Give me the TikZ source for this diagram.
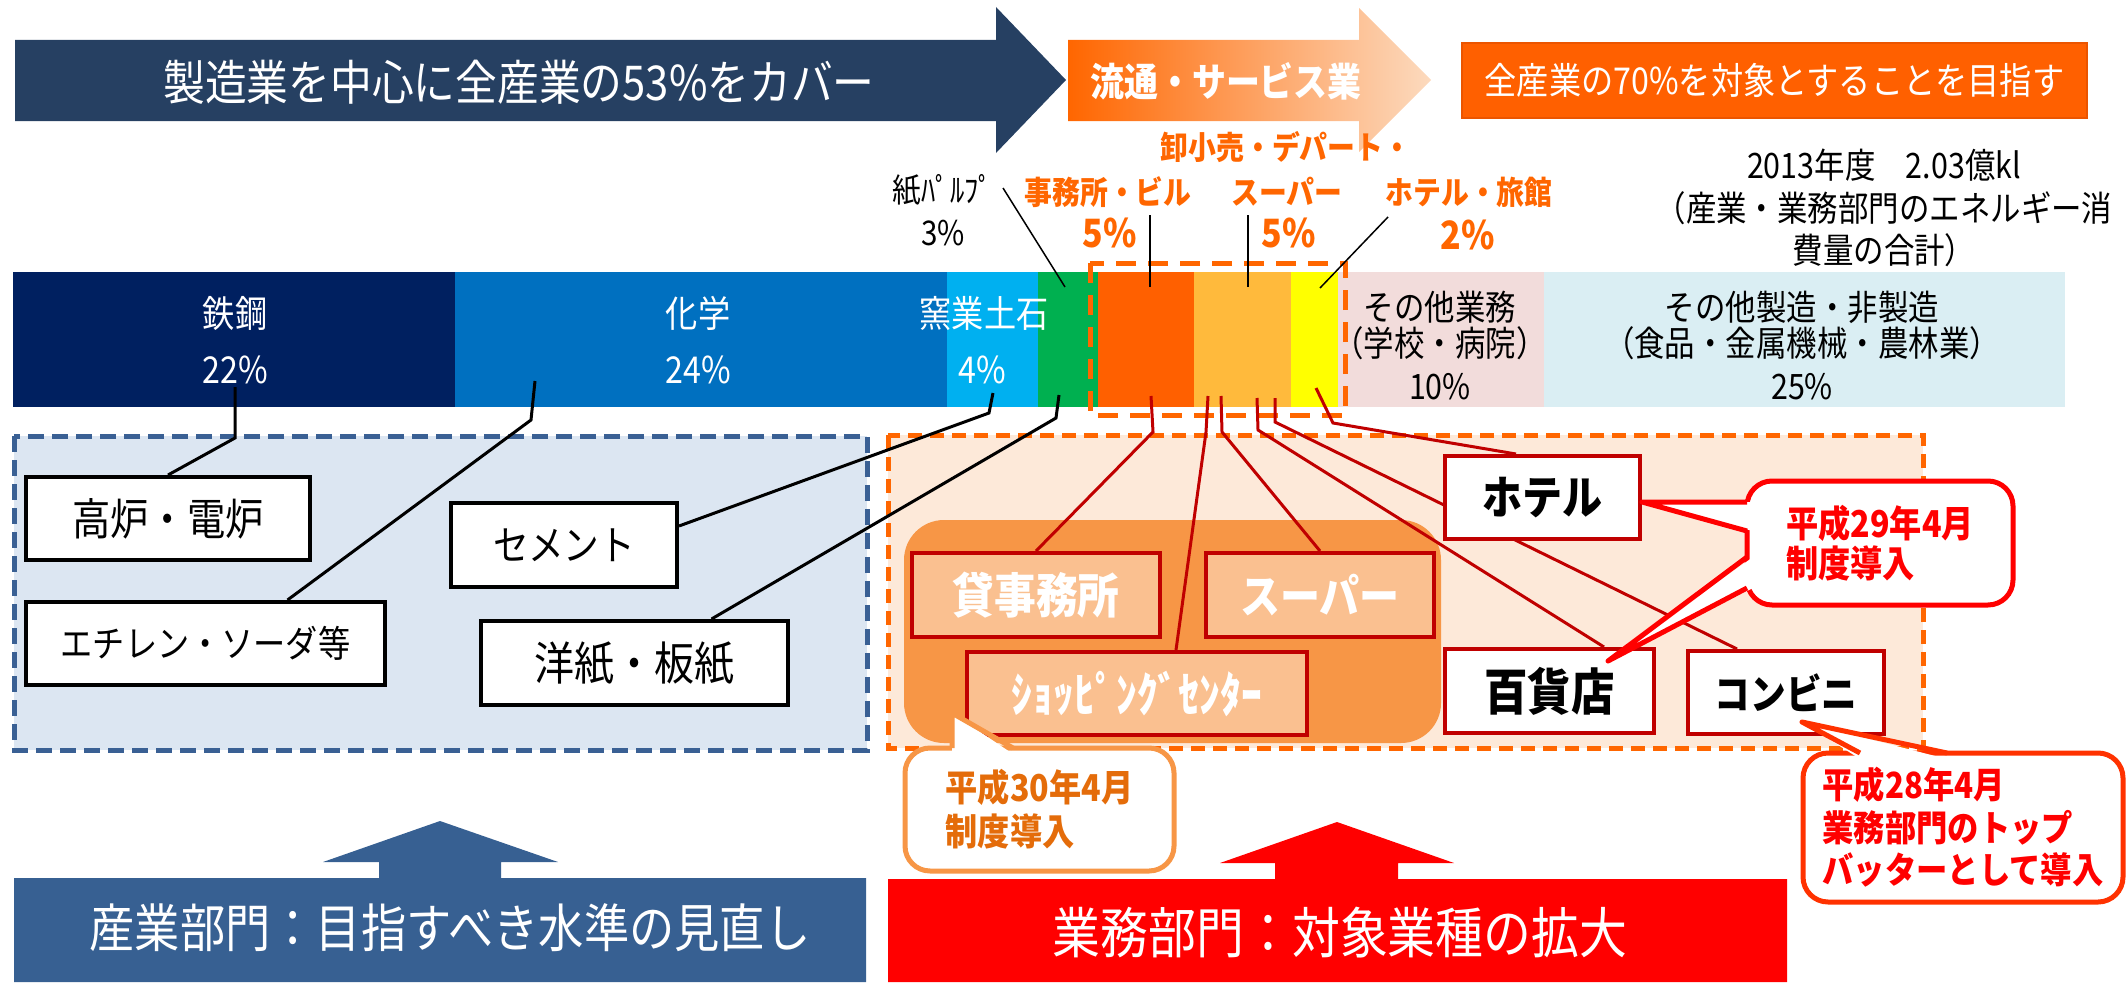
\documentclass[tikz,border=0pt]{standalone}
\usepackage{fontspec}
\setmainfont{Noto Sans CJK JP}[FakeStretch=0.87]
\pgfdeclarelayer{bg}
\pgfdeclarelayer{mid}
\pgfsetlayers{bg,mid,main}
\definecolor{navyA}{RGB}{38,64,98}
\definecolor{orA}{RGB}{255,102,0}
\definecolor{orM}{RGB}{249,140,60}
\definecolor{peachL}{RGB}{252,218,190}
\definecolor{orR}{RGB}{255,96,0}
\definecolor{orD}{RGB}{235,85,0}
\definecolor{cSteel}{RGB}{0,32,96}
\definecolor{cChem}{RGB}{0,112,192}
\definecolor{cCer}{RGB}{0,176,240}
\definecolor{cPap}{RGB}{0,176,80}
\definecolor{cOff}{RGB}{255,96,0}
\definecolor{cSup}{RGB}{255,186,60}
\definecolor{cHot}{RGB}{255,255,0}
\definecolor{cOth}{RGB}{242,220,219}
\definecolor{cMan}{RGB}{218,238,243}
\definecolor{blueF}{RGB}{220,230,242}
\definecolor{blueB}{RGB}{58,96,148}
\definecolor{peachF}{RGB}{253,233,217}
\definecolor{roundO}{RGB}{247,150,70}
\definecolor{boxO}{RGB}{250,192,144}
\definecolor{dRed}{RGB}{192,0,0}
\definecolor{cRed}{RGB}{255,0,0}
\definecolor{cTxt}{RGB}{228,108,10}
\definecolor{cEdge}{RGB}{255,50,0}
\definecolor{botB}{RGB}{55,96,146}
\definecolor{botR}{RGB}{255,0,0}
\definecolor{labO}{RGB}{255,102,0}
\newcommand{\fz}[2]{\fontsize{#1}{#2}\selectfont}
\begin{document}
\begin{tikzpicture}[x=1pt,y=-1pt,
 seg/.style={minimum height=135pt,inner sep=0pt,outer sep=0pt},
 tx/.style={inner sep=0pt,outer sep=0pt},
 wbox/.style={draw=black,line width=4pt,fill=white,inner sep=0pt},
 rbox/.style={draw=dRed,line width=4pt,fill=white,inner sep=0pt},
 obox/.style={draw=dRed,line width=4pt,fill=boxO,inner sep=0pt,text=white},
 blead/.style={line width=3pt,black},
 rlead/.style={line width=3pt,dRed},
 tlead/.style={line width=1.5pt,black},
 call/.style={line width=5pt,fill=white,rounded corners=25pt,inner sep=0pt,align=left},
 tail/.style={line width=5pt,line join=round},
]
\useasboundingbox (0,0) rectangle (2127,982);
\begin{pgfonlayer}{bg}
% top arrows
\fill[navyA] (15,40) -- (996,40) -- (996,7) -- (1066,80) -- (996,153) -- (996,121) -- (15,121) -- cycle;
\node[tx,text=white,font={\fz{48}{56}}] (t1) at (519,82) {製造業を中心に全産業の53\%をカバー};
\shade[left color=orA,middle color=orM,right color=peachL] (1068,40) -- (1359,40) -- (1359,8) -- (1431,80) -- (1359,152) -- (1359,121) -- (1068,121) -- cycle;
\node[tx,text=white,font={\bfseries\fz{39}{45}}] (t2) at (1226,81) {流通・サービス業};
\node[draw=orD,line width=2pt,fill=orR,minimum width=625pt,minimum height=75pt,inner sep=0pt,text=white,font={\fz{37}{42}}] (t3) at (1774.5,80.5) {全産業の70\%を対象とすることを目指す};
% labels above bar
\node[tx,font={\fz{33}{38}}] (q0) at (943,190) {紙ﾊﾟﾙﾌﾟ};
\node[tx,font={\fz{34}{40}}] (q0p) at (943,233) {3\%};
\node[tx,text=labO,font={\bfseries\fz{32}{38}}] (q1) at (1108,192) {事務所・ビル};
\node[tx,text=labO,font={\bfseries\fz{39}{45}}] (q1p) at (1110,233) {5\%};
\node[tx,text=labO,font={\bfseries\fz{32}{38}}] (q2a) at (1286,147) {卸小売・デパート・};
\node[tx,text=labO,font={\bfseries\fz{32}{38}}] (q2) at (1287,192) {スーパー};
\node[tx,text=labO,font={\bfseries\fz{39}{45}}] (q2p) at (1289,233) {5\%};
\node[tx,text=labO,font={\bfseries\fz{32}{38}}] (q3) at (1469,192) {ホテル・旅館};
\node[tx,text=labO,font={\bfseries\fz{39}{45}}] (q3p) at (1468,235) {2\%};
\node[tx,align=center,font={\fz{35}{42.5}}] (tot) at (1884,208) {2013年度　2.03億kl\\（産業・業務部門のエネルギー消\\費量の合計）};
% dashed areas
\draw[draw=blueB,fill=blueF,line width=5pt,dash pattern=on 16pt off 8pt] (14,436) rectangle (867,750);
\draw[draw=orA,fill=peachF,line width=5pt,dash pattern=on 14pt off 8pt] (888,435) rectangle (1923,748);
\fill[roundO,rounded corners=40pt] (904,520) rectangle (1441,743);
% bar
\node[seg,fill=cSteel,minimum width=442pt] (s1) at (234,339.5) {};
\node[seg,fill=cChem,minimum width=492pt] (s2) at (701,339.5) {};
\node[seg,fill=cCer,minimum width=91pt] (s3) at (992.5,339.5) {};
\node[seg,fill=cPap,minimum width=60pt] (s4) at (1068,339.5) {};
\node[seg,fill=cOff,minimum width=96pt] (s5) at (1146,339.5) {};
\node[seg,fill=cSup,minimum width=97pt] (s6) at (1242.5,339.5) {};
\node[seg,fill=cHot,minimum width=47pt] (s7) at (1314.5,339.5) {};
\node[seg,fill=cOth,minimum width=206pt] (s8) at (1441,339.5) {};
\node[seg,fill=cMan,minimum width=521pt] (s9) at (1804.5,339.5) {};
\node[tx,text=white,font={\fz{37}{42}}] (n1) at (235,313) {鉄鋼};
\node[tx,text=white,font={\fz{37}{42}}] (n1p) at (235,370) {22\%};
\node[tx,text=white,font={\fz{37}{42}}] (n2) at (698,313) {化学};
\node[tx,text=white,font={\fz{37}{42}}] (n2p) at (698,370) {24\%};
\node[tx,text=white,font={\fz{37}{42}}] (n3) at (984,313) {窯業土石};
\node[tx,text=white,font={\fz{37}{42}}] (n3p) at (982,370) {4\%};
\node[tx,font={\fz{35}{40}}] (n8) at (1440,307) {その他業務};
\node[tx,font={\fz{35}{40}}] (n8b) at (1440,343) {（学校・病院）};
\node[tx,font={\fz{35}{40}}] (n8p) at (1440,387) {10\%};
\node[tx,font={\fz{35}{40}}] (n9) at (1802,307) {その他製造・非製造};
\node[tx,font={\fz{35}{40}}] (n9b) at (1802,343) {（食品・金属機械・農林業）};
\node[tx,font={\fz{35}{40}}] (n9p) at (1802,387) {25\%};
\draw[orA,line width=5pt,dash pattern=on 20pt off 12pt] (1090,263) rectangle (1345,415);
% bottom arrows
\fill[botB] (14,878) -- (379,878) -- (379,862) -- (323,862) -- (440,821) -- (558,862) -- (501,862) -- (501,878) -- (866,878) -- (866,982) -- (14,982) -- cycle;
\node[tx,text=white,font={\fz{52}{58}}] (bt1) at (450,928) {産業部門：目指すべき水準の見直し};
\fill[botR] (888,879) -- (1275,879) -- (1275,863) -- (1220,863) -- (1337,822) -- (1454,863) -- (1398,863) -- (1398,879) -- (1787,879) -- (1787,982) -- (888,982) -- cycle;
\node[tx,text=white,font={\fz{55}{60}}] (bt2) at (1340,933) {業務部門：対象業種の拡大};
\end{pgfonlayer}
% boxes
\node[wbox,minimum width=284pt,minimum height=83pt,font={\fz{44}{50}}] (k1) at (168,518.5) {高炉・電炉};
\node[wbox,minimum width=359pt,minimum height=83pt,font={\fz{37}{42}}] (k2) at (205.5,643.5) {エチレン・ソーダ等};
\node[wbox,minimum width=226pt,minimum height=84pt,font={\fz{41}{46}}] (k3) at (564,545) {セメント};
\node[wbox,minimum width=307pt,minimum height=84pt,font={\fz{46}{52}}] (k4) at (634.5,663) {洋紙・板紙};
\node[obox,minimum width=248pt,minimum height=84pt,font={\bfseries\fz{48}{54}}] (r1) at (1036,595) {貸事務所};
\node[obox,minimum width=228pt,minimum height=84pt,font={\bfseries\fz{46}{52}}] (r2) at (1320,595) {スーパー};
\node[obox,minimum width=340pt,minimum height=83pt,font={\bfseries\fz{48}{54}}] (r3) at (1137,693.5) {ｼｮｯﾋﾟﾝｸﾞｾﾝﾀｰ};
\node[rbox,minimum width=195pt,minimum height=83pt,font={\bfseries\fz{46}{52}}] (w1) at (1542.5,497.5) {ホテル};
\node[rbox,minimum width=209pt,minimum height=84pt,font={\bfseries\fz{50}{56}}] (w2) at (1549.5,691) {百貨店};
\node[rbox,minimum width=196pt,minimum height=83pt,font={\bfseries\fz{41}{46}}] (w3) at (1786,692.5) {コンビニ};
% connectors
\begin{pgfonlayer}{mid}
\coordinate (u0a) at (1003,188); \coordinate (u0b) at (1065,287);
\coordinate (u1a) at (1150,215); \coordinate (u1b) at (1150,287);
\coordinate (u2a) at (1248,215); \coordinate (u2b) at (1248,287);
\coordinate (u3a) at (1388,217); \coordinate (u3b) at (1320,288);
\draw[tlead] (u0a) -- (u0b);
\draw[tlead] (u1a) -- (u1b);
\draw[tlead] (u2a) -- (u2b);
\draw[tlead] (u3a) -- (u3b);
\coordinate (a1) at (235,387); \coordinate (a1b) at (235,438);
\coordinate (a2) at (535,381); \coordinate (a2b) at (531,420);
\coordinate (a3) at (993,393); \coordinate (a3b) at (989,413);
\coordinate (a4) at (1059,395); \coordinate (a4b) at (1056,418);
\draw[blead] (a1) -- (a1b) -- (k1.north);
\draw[blead] (a2) -- (a2b) -- ([xshift=82pt]k2.north);
\draw[blead] (a3) -- (a3b) -- ([yshift=19pt]k3.east);
\draw[blead] (a4) -- (a4b) -- ([xshift=77pt]k4.north);
\coordinate (b1) at (1151,396); \coordinate (b1b) at (1153,432);
\coordinate (b2) at (1208,396); \coordinate (b2b) at (1206,432);
\coordinate (b3) at (1221,396); \coordinate (b3b) at (1222,432);
\coordinate (b4) at (1257,398); \coordinate (b4b) at (1258,430);
\coordinate (b5) at (1275,398); \coordinate (b5b) at (1275,422);
\coordinate (b6) at (1316,388); \coordinate (b6b) at (1333,423);
\draw[rlead] (b1) -- (b1b) -- (r1.north);
\draw[rlead] (b2) -- (b2b) -- ([xshift=39pt]r3.north);
\draw[rlead] (b3) -- (b3b) -- (r2.north);
\draw[rlead] (b4) -- (b4b) -- ([xshift=54.5pt]w2.north);
\draw[rlead] (b5) -- (b5b) -- ([xshift=-49pt]w3.north);
\draw[rlead] (b6) -- (b6b) -- ([xshift=-26.5pt]w1.north);
\end{pgfonlayer}
% callouts
\node[call,draw=cRed,text=cRed,minimum width=266pt,minimum height=124pt,font={\bfseries\fz{37}{40}}] (c29) at (1880,543) {平成29年4月\\制度導入};
\coordinate (tA) at ([yshift=-4.5pt]w1.east);
\coordinate (tB) at ([xshift=58.5pt,yshift=-14pt]w2.north);
\fill[white] (1753,502) -- (tA) -- (1753,531) -- cycle;
\draw[tail,cRed] (1747,502) -- (tA) -- (1747,531);
\fill[white] (1753,557) -- (tB) -- (1753,588) -- cycle;
\draw[tail,cRed] (1747,557) -- (tB) -- (1747,588);
\node[call,draw=roundO,text=cTxt,minimum width=269pt,minimum height=123pt,font={\bfseries\fz{37}{44}}] (c30) at (1039.5,809.5) {平成30年4月\\制度導入};
\coordinate (tC) at (952,713);
\fill[white] (952,754) -- (tC) -- (1013,754) -- cycle;
\draw[tail,roundO] (952,748) -- (tC) -- (1013,748);
\node[call,draw=cEdge,text=cRed,minimum width=320pt,minimum height=149pt,font={\bfseries\fz{36}{42.5}}] (c28) at (1963,827.5) {平成28年4月\\業務部門のトップ\\バッターとして導入};
\coordinate (tD) at ([xshift=16pt,yshift=-29.5pt]w3.center);
\fill[white] (1860,759) -- (tD) -- (1947,759) -- cycle;
\draw[tail,cEdge] (1860,753) -- (tD) -- (1947,753);
\end{tikzpicture}
\end{document}
